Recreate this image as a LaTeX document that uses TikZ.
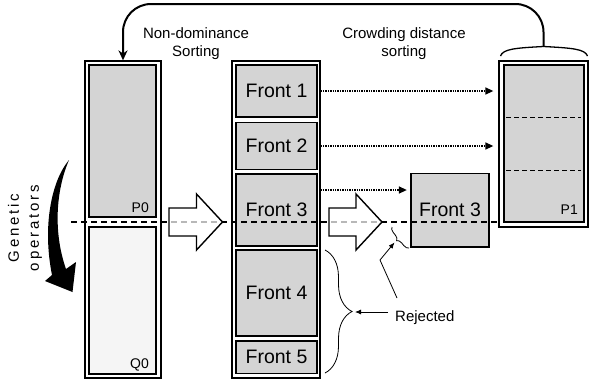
\documentclass[tikz,border=0pt]{standalone}
\usepackage{fontspec}
\setmainfont{Liberation Sans}
\usetikzlibrary{arrows.meta,calc,decorations.pathreplacing}
\definecolor{boxgray}{gray}{0.83}
\definecolor{palegray}{gray}{0.96}
\definecolor{cutgray}{gray}{0.72}
\tikzset{>=Stealth,
  column/.style={draw,line width=1.3pt,fill=white,inner sep=0pt},
  front/.style={draw,line width=1.3pt,fill=boxgray,inner sep=0pt,minimum width=81pt,font=\fontsize{19.5}{23}\selectfont},
  tag/.style={font=\fontsize{14}{16}\selectfont,anchor=base east,inner sep=0pt},
  caption/.style={font=\fontsize{15}{18}\selectfont,align=center,inner sep=0pt},
  sortflow/.style={line width=1.4pt,densely dotted,-{Triangle[length=8pt,width=7pt]}},
  cut/.style={line width=1.4pt,dash pattern=on 6pt off 4pt},
  slice/.style={line width=1pt,dash pattern=on 5pt off 3pt},
  hollow/.style={draw,line width=1.4pt,fill=white,line join=miter},
  pointer/.style={line width=0.8pt,-{Latex[length=6pt,width=5pt]}},
  rejbrace/.style={line width=0.8pt,decorate,decoration={brace,amplitude=#1}},
  loopback/.style={line width=2pt,-{Stealth[length=10pt,width=9pt]},rounded corners=28pt}}

\begin{document}
\begin{tikzpicture}[x=1pt,y=-1pt]
\useasboundingbox (0,0) rectangle (589,381);
% the three populations
\node[column,minimum width=76pt,minimum height=317pt] (pop) at (123,219.5) {};
\node[column,minimum width=88pt,minimum height=317pt] (mid) at (276,219.5) {};
\node[column,minimum width=89pt,minimum height=166pt] (next) at (543.5,144) {};
\node[front,minimum width=67pt,minimum height=152pt] (p0) at (122.5,141) {};
\node[front,minimum width=67pt,minimum height=147pt,fill=palegray] (q0) at (122.5,300.5) {};
\node[tag] (p0tag) at (149,212) {P0};\node[tag] (q0tag) at (149,368) {Q0};
% fronts
\node[front,minimum height=52pt] (f1) at (276.5,91) {Front 1};
\node[front,minimum height=47pt] (f2) at (276.5,146) {Front 2};
\node[front,minimum height=72pt] (f3) at (276.5,210) {Front 3};
\node[front,minimum height=86pt] (f4) at (276.5,293) {Front 4};
\node[front,minimum height=32.5pt] (f5) at (276.5,357.25) {Front 5};
\node[front,minimum width=78pt,minimum height=73.5pt] (kept) at (450,210.25) {Front 3};
\node[front,minimum width=80pt,minimum height=157pt] (p1) at (544,143.5) {};
\foreach \y in {117,170} \draw[slice] (506,\y) -- (581,\y);
\node[tag] (p1tag) at (578,214) {P1};
% cut line and the two big arrows
\coordinate (cutL) at (71,222);
\draw[cut] (cutL) -- (cutL -| next.west);
\draw[hollow] (169,208) -- (196.5,208) -- (196.5,194) -- (222.5,222) -- (196.5,250) -- (196.5,236) -- (169,236) -- cycle;
\draw[hollow] (329,208) -- (356,208) -- (356,194) -- (382,222) -- (356,250) -- (356,236) -- (329,236) -- cycle;
\draw[cut,cutgray] (171,222) -- (217,222);\draw[cut,cutgray] (331,222) -- (377,222);
% crowding distance
\draw[sortflow,shorten >=5pt] (f1.east -| mid.east) -- (f1.east -| next.west);
\draw[sortflow,shorten >=5pt] (f2.east -| mid.east) -- (f2.east -| next.west);
\draw[sortflow,shorten >=3.5pt] (mid.east |- 0,190) -- (kept.west |- 0,190);
\node[caption] (nds) at (196,44) {Non-dominance\\Sorting};
\node[caption] (cds) at (404,44) {Crowding distance\\sorting};
% back to the start
\coordinate (crest) at (543.5,46.5);
\draw[line width=1.3pt] (500.5,56) .. controls (503,49) and (515,48) .. (crest) .. controls (572,48) and (585,49) .. (587.5,56);
\draw[loopback] (crest) |- (pop.north |- 0,4) -- (pop.north);
% genetic operators
\fill (69,160) .. controls (52,180) and (42,225) .. (52,275) -- (45,281) -- (72.5,292) -- (76,262) -- (66,269) .. controls (53,232) and (56,190) .. (69,160) -- cycle;
\node[caption,rotate=90,font=\fontsize{15}{20}\selectfont\addfontfeature{LetterSpace=19}] (gen) at (25,228) {Genetic\\operators};
% rejected
\node[caption,anchor=base west] (rej) at (395,321.5) {Rejected};
\coordinate (bracetip) at (355,312);\coordinate (kink) at (380,260);\coordinate (rejtip) at (394.5,242.5);
\draw[rejbrace=27pt] (325,250) -- (325,373);
\draw[rejbrace=5pt] (409,248) -- (392,227);
\draw[pointer] ($(rej.base west)+(-7,-9.5)$) -- (bracetip);
\draw[pointer] ($(rej.base west)+(2,-23.5)$) -- (kink) -- (rejtip);
\end{tikzpicture}
\end{document}
